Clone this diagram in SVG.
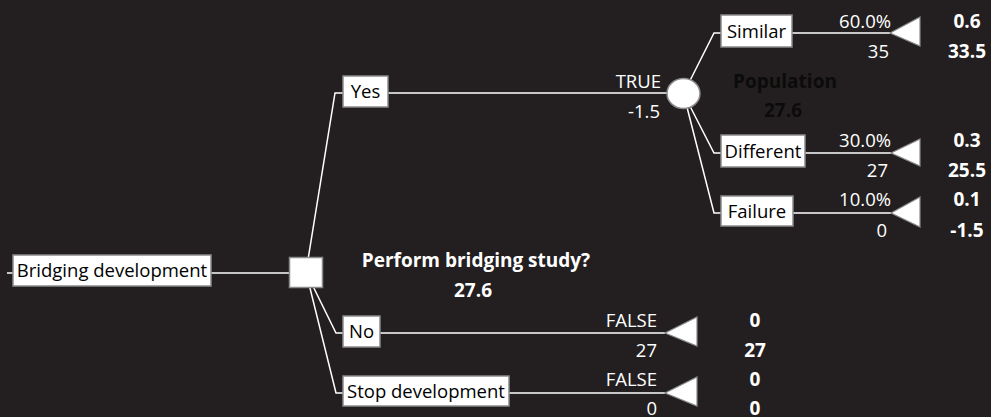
<svg xmlns="http://www.w3.org/2000/svg" width="991" height="417" viewBox="0 0 991 417">
<style>
.bg{fill:#231f20}
.c{fill:none;stroke:#ffffff;stroke-width:1.5}
.box{fill:#ffffff;stroke:#8a8a8a;stroke-width:1.5}
.tri{fill:#ffffff;stroke:#8a8a8a;stroke-width:1.2}
text{font-family:"Open Sans","Noto Sans","DejaVu Sans",sans-serif;font-size:18.5px}
.bt{fill:#000000;text-anchor:middle}
.lab{fill:#ffffff;text-anchor:end}
.val{fill:#ffffff;font-weight:bold;text-anchor:middle;font-size:19px}
.dk{fill:#0c0b0b;font-weight:bold;text-anchor:middle;font-size:19px}
</style>
<rect class="bg" x="0" y="0" width="991" height="417"/>
<g id="connectors">
<path class="c" d="M7,273 H306"/>
<path class="c" d="M306,272 L335,93 H683"/>
<path class="c" d="M306,272 L336,333 H665"/>
<path class="c" d="M306,272 L336,393 H665"/>
<path class="c" d="M683.5,93.5 L714,33 H890"/>
<path class="c" d="M683.5,93.5 L714,153 H891"/>
<path class="c" d="M683.5,93.5 L714,213 H891"/>
</g>
<g id="n-bridging">
<rect class="box" x="13" y="255" width="198" height="31"/>
<text class="bt" x="112" y="277">Bridging development</text>
</g>
<g id="n-decision">
<rect class="box" x="289.5" y="257.5" width="33" height="30"/>
<text class="val" x="476" y="267">Perform bridging study?</text>
<text class="val" x="473" y="297">27.6</text>
</g>
<g id="n-yes">
<rect class="box" x="343" y="76" width="45" height="31"/>
<text class="bt" x="365.5" y="98">Yes</text>
<text class="lab" x="661" y="88">TRUE</text>
<text class="lab" x="660" y="118">-1.5</text>
</g>
<g id="n-chance">
<ellipse class="box" cx="683.5" cy="93.5" rx="16.5" ry="15"/>
<text class="dk" x="785" y="88">Population</text>
<text class="dk" x="783" y="117">27.6</text>
</g>
<g id="n-similar">
<rect class="box" x="721" y="15" width="71" height="32"/>
<text class="bt" x="756.5" y="38">Similar</text>
<text class="lab" x="891" y="28">60.0%</text>
<text class="lab" x="889" y="58">35</text>
</g>
<g id="t-similar">
<polygon class="tri" points="890,33 920,17 920,46"/>
<text class="val" x="967" y="28">0.6</text>
<text class="val" x="967" y="58">33.5</text>
</g>
<g id="n-different">
<rect class="box" x="721" y="135" width="84" height="32"/>
<text class="bt" x="763" y="158">Different</text>
<text class="lab" x="891" y="147">30.0%</text>
<text class="lab" x="888" y="177">27</text>
</g>
<g id="t-different">
<polygon class="tri" points="891,153 920,139 920,166"/>
<text class="val" x="967" y="147">0.3</text>
<text class="val" x="967" y="177">25.5</text>
</g>
<g id="n-failure">
<rect class="box" x="721" y="196" width="72" height="30"/>
<text class="bt" x="757" y="218">Failure</text>
<text class="lab" x="891" y="206">10.0%</text>
<text class="lab" x="887" y="237">0</text>
</g>
<g id="t-failure">
<polygon class="tri" points="891,213 920,197 920,227"/>
<text class="val" x="967" y="206">0.1</text>
<text class="val" x="967" y="237">-1.5</text>
</g>
<g id="n-no">
<rect class="box" x="343" y="316" width="37" height="31"/>
<text class="bt" x="361.5" y="338">No</text>
<text class="lab" x="657" y="327">FALSE</text>
<text class="lab" x="657" y="357">27</text>
</g>
<g id="t-no">
<polygon class="tri" points="665,333 697,317 697,346"/>
<text class="val" x="755" y="327">0</text>
<text class="val" x="755" y="357">27</text>
</g>
<g id="n-stop">
<rect class="box" x="343" y="376" width="166" height="30"/>
<text class="bt" x="426" y="398">Stop development</text>
<text class="lab" x="657" y="386">FALSE</text>
<text class="lab" x="657" y="415">0</text>
</g>
<g id="t-stop">
<polygon class="tri" points="665,393 697,377 697,406"/>
<text class="val" x="755" y="386">0</text>
<text class="val" x="755" y="415">0</text>
</g>
</svg>
